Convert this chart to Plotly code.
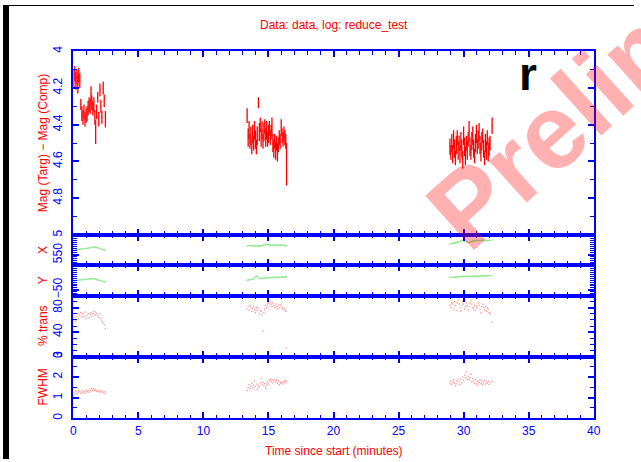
import plotly.graph_objects as go

# ---------------- data ----------------
# light curve: time (min), differential magnitude, 1-sigma error
t1 = [0.05, 0.12, 0.20, 0.28, 0.35, 0.42, 0.50, 0.58, 0.66, 0.74, 0.82, 0.90, 0.98, 1.06, 1.14, 1.22,
      1.30, 1.36, 1.42, 1.50, 1.58, 1.66, 1.72, 1.80, 1.88, 1.96, 2.05, 2.12, 2.20, 2.30, 2.38, 2.47]
m1 = [4.15, 4.12, 4.16, 4.14, 4.18, 4.13, 4.16, 4.29, 4.34, 4.36, 4.33, 4.37, 4.35, 4.34, 4.31, 4.29,
      4.30, 4.23, 4.28, 4.31, 4.29, 4.36, 4.44, 4.33, 4.25, 4.37, 4.21, 4.30, 4.36, 4.20, 4.27, 4.37]
e1 = [0.05, 0.04, 0.05, 0.04, 0.05, 0.04, 0.04, 0.03, 0.04, 0.04, 0.04, 0.04, 0.04, 0.04, 0.04, 0.04,
      0.04, 0.04, 0.04, 0.04, 0.04, 0.04, 0.065, 0.04, 0.03, 0.04, 0.035, 0.035, 0.035, 0.035, 0.035, 0.045]

t2 = [13.36, 13.44, 13.51, 13.58, 13.65, 13.72, 13.79, 13.86, 13.93, 14.00, 14.07, 14.14, 14.23, 14.30, 14.37,
      14.44, 14.51, 14.58, 14.65, 14.72, 14.79, 14.86, 14.93, 15.00, 15.07, 15.14, 15.21, 15.27, 15.34, 15.41,
      15.48, 15.55, 15.62, 15.69, 15.76, 15.83, 15.90, 15.98, 16.05, 16.12, 16.19, 16.26, 16.33, 16.39]
m2 = [4.35, 4.47, 4.43, 4.49, 4.46, 4.52, 4.45, 4.50, 4.43, 4.48, 4.52, 4.46, 4.28, 4.44, 4.40,
      4.47, 4.43, 4.49, 4.44, 4.41, 4.47, 4.43, 4.48, 4.45, 4.42, 4.47, 4.44, 4.41, 4.50, 4.53,
      4.49, 4.54, 4.50, 4.55, 4.51, 4.47, 4.49, 4.415, 4.46, 4.48, 4.45, 4.47, 4.49, 4.615]
e2 = [0.04, 0.05, 0.05, 0.04, 0.05, 0.04, 0.05, 0.04, 0.05, 0.05, 0.04, 0.05, 0.03, 0.05, 0.04,
      0.05, 0.05, 0.04, 0.05, 0.04, 0.05, 0.05, 0.04, 0.05, 0.04, 0.04, 0.04, 0.05, 0.05, 0.05,
      0.04, 0.05, 0.04, 0.05, 0.04, 0.04, 0.04, 0.045, 0.04, 0.04, 0.04, 0.04, 0.04, 0.115]

t3 = [28.95, 29.02, 29.09, 29.16, 29.23, 29.30, 29.37, 29.44, 29.51, 29.58, 29.65, 29.72, 29.79, 29.86, 29.93,
      30.00, 30.07, 30.14, 30.21, 30.28, 30.35, 30.42, 30.49, 30.56, 30.63, 30.70, 30.77, 30.84, 30.91, 30.98,
      31.05, 31.12, 31.19, 31.26, 31.33, 31.40, 31.47, 31.54, 31.61, 31.68, 31.75, 31.82, 31.89, 31.96, 32.03, 32.19]
m3 = [4.52, 4.55, 4.50, 4.56, 4.48, 4.53, 4.58, 4.51, 4.47, 4.54, 4.50, 4.56, 4.49, 4.53, 4.59,
      4.46, 4.52, 4.57, 4.50, 4.54, 4.48, 4.43, 4.52, 4.55, 4.49, 4.46, 4.53, 4.57, 4.50, 4.45,
      4.52, 4.48, 4.44, 4.51, 4.55, 4.49, 4.46, 4.53, 4.58, 4.50, 4.54, 4.47, 4.55, 4.52, 4.50, 4.405]
e3 = [0.045, 0.04, 0.05, 0.05, 0.05, 0.05, 0.04, 0.05, 0.04, 0.05, 0.04, 0.05, 0.05, 0.05, 0.05,
      0.05, 0.05, 0.05, 0.04, 0.05, 0.04, 0.05, 0.05, 0.04, 0.05, 0.05, 0.05, 0.04, 0.05, 0.05,
      0.04, 0.05, 0.05, 0.05, 0.05, 0.05, 0.04, 0.05, 0.04, 0.05, 0.05, 0.04, 0.05, 0.05, 0.04, 0.045]

# target centroid X (pixels), sampled at the same times
x1 = [551.15, 551.2, 551.25, 551.3, 551.3, 551.35, 551.4, 551.45, 551.5, 551.5, 551.55, 551.6, 551.6, 551.65,
      551.7, 551.75, 551.8, 551.85, 551.9, 552.0, 551.95, 552.0, 551.9, 551.85, 551.8, 551.7, 551.6, 551.5,
      551.4, 551.3, 551.2, 551.05]
x2 = [552.2, 552.35, 552.3, 552.4, 552.3, 552.25, 552.35, 552.2, 552.3, 552.15, 552.25, 552.3, 552.2, 552.15,
      552.3, 552.25, 552.35, 552.4, 552.5, 552.6, 552.55, 552.7, 552.75, 552.6, 552.5, 552.45, 552.4, 552.5,
      552.45, 552.5, 552.4, 552.5, 552.35, 552.45, 552.4, 552.5, 552.55, 552.4, 552.45, 552.35, 552.45, 552.35,
      552.4, 552.2]
x3 = [552.8, 552.85, 552.9, 552.85, 553.0, 553.1, 553.0, 553.2, 553.3, 553.15, 553.3, 553.45, 553.5, 553.6,
      553.55, 553.6, 553.5, 553.4, 553.3, 553.2, 553.1, 553.15, 553.2, 553.3, 553.4, 553.5, 553.45, 553.6,
      553.55, 553.65, 553.6, 553.7, 553.65, 553.6, 553.7, 553.65, 553.6, 553.7, 553.6, 553.65, 553.55, 553.6,
      553.7, 553.6, 553.65, 553.7]

# target centroid Y (pixels)
y1 = [-47.6, -47.55, -47.6, -47.5, -47.45, -47.5, -47.4, -47.45, -47.35, -47.4, -47.3, -47.35, -47.25, -47.2,
      -47.25, -47.15, -47.1, -47.15, -47.05, -47.0, -47.1, -47.15, -47.25, -47.35, -47.4, -47.5, -47.55, -47.65,
      -47.7, -47.8, -47.85, -47.9]
y2 = [-47.5, -47.45, -47.4, -47.45, -47.3, -47.2, -47.3, -47.1, -46.9, -46.6, -46.4, -46.5, -46.7, -46.9,
      -47.0, -47.1, -46.95, -47.05, -46.9, -47.0, -46.85, -46.9, -46.8, -46.85, -46.9, -46.8, -46.85, -46.7,
      -46.8, -46.85, -46.7, -46.75, -46.85, -46.7, -46.75, -46.6, -46.7, -46.75, -46.6, -46.7, -46.55, -46.6,
      -46.7, -46.5]
y3 = [-46.7, -46.75, -46.8, -46.7, -46.65, -46.75, -46.7, -46.6, -46.7, -46.55, -46.6, -46.7, -46.55, -46.6,
      -46.5, -46.55, -46.6, -46.45, -46.55, -46.65, -46.5, -46.45, -46.5, -46.6, -46.45, -46.5, -46.4, -46.45,
      -46.5, -46.4, -46.45, -46.5, -46.35, -46.45, -46.3, -46.4, -46.45, -46.3, -46.35, -46.45, -46.3, -46.35,
      -46.25, -46.3, -46.35, -46.2]

# sky transparency (%)
tr1 = [60, 64, 58, 66, 70, 62, 68, 72, 65, 70, 66, 73, 62, 67, 71, 64,
       69, 72, 66, 70, 74, 68, 73, 71, 67, 64, 70, 62, 58, 55, 52, 46]
tr2 = [78, 82, 76, 84, 80, 74, 79, 83, 77, 72, 81, 75, 79, 70, 76,
       74, 68, 42, 72, 78, 84, 80, 86, 88, 83, 90, 86, 82, 88, 84,
       80, 86, 82, 78, 84, 80, 85, 82, 78, 80, 76, 79, 74, 14]
tr3 = [84, 80, 88, 86, 78, 90, 84, 76, 88, 92, 86, 80, 74, 84, 90,
       86, 78, 82, 88, 84, 76, 82, 88, 92, 86, 80, 78, 84, 76, 82,
       80, 88, 84, 78, 72, 82, 86, 80, 76, 82, 74, 80, 78, 72, 70, 56]

# seeing (FWHM)
fw1 = [1.10, 1.22, 1.30, 1.18, 1.26, 1.34, 1.28, 1.20, 1.32, 1.24, 1.30, 1.22, 1.36, 1.28, 1.34, 1.26,
       1.40, 1.32, 1.44, 1.36, 1.42, 1.34, 1.38, 1.30, 1.36, 1.28, 1.34, 1.26, 1.30, 1.22, 1.28, 1.20]
fw2 = [1.34, 1.50, 1.62, 1.44, 1.56, 1.70, 1.48, 1.60, 1.80, 1.54, 1.66, 1.42, 1.58, 1.50, 1.72,
       1.94, 1.62, 1.74, 1.56, 1.68, 1.46, 1.60, 1.76, 1.66, 1.84, 1.90, 1.78, 1.86, 1.72, 1.82,
       1.88, 1.76, 1.84, 1.70, 1.80, 1.62, 1.74, 1.68, 1.76, 1.66, 1.80, 1.72, 1.84, 1.78]
fw3 = [1.68, 1.80, 1.62, 1.74, 1.86, 1.70, 1.58, 1.82, 1.66, 1.92, 1.76, 1.64, 1.88, 1.72, 2.00,
       1.84, 2.10, 1.96, 2.24, 1.90, 2.04, 1.86, 1.98, 2.14, 1.78, 1.92, 1.82, 1.70, 1.88, 1.66,
       1.80, 1.60, 1.74, 1.86, 1.68, 1.78, 1.62, 1.72, 1.84, 1.66, 1.76, 1.70, 1.80, 1.64, 1.74, 1.78]

# tick labels
time_ticks = [0, 5, 10, 15, 20, 25, 30, 35, 40]
mag_ticks = [4, 4.2, 4.4, 4.6, 4.8, 5]
mag_labels = ["4", "4.2", "4.4", "4.6", "4.8", "5"]

# ---------------- layout helpers ----------------
W, H = 641, 462
BLUE = "#0000ff"
RED = "#ff0000"
FONT = "Liberation Sans"
X0, X1 = 71.4, 600.1


def py(p):
    """pixel row -> paper y"""
    return 1 - p / H


def px(p):
    return p / W


# panel rows (top, bottom) in pixels
rows = {
    "mag": (47.05, 234.05),
    "x": (234.05, 264.5),
    "y": (264.5, 295.7),
    "tr": (295.7, 357.7),
    "fw": (357.7, 420.4),
}

fig = go.Figure()

tt = [t1, t2, t3]
mm = [m1, m2, m3]
ee = [e1, e2, e3]
for t, m, e in zip(tt, mm, ee):
    fig.add_trace(go.Scatter(
        x=t, y=m, mode="markers", xaxis="x", yaxis="y",
        marker=dict(size=1, color=RED),
        error_y=dict(type="data", array=e, color=RED, thickness=1.3, width=0),
        showlegend=False, hoverinfo="skip"))

GREEN = "rgb(140,232,140)"
PINK = "rgb(255,150,150)"
aux = [("x2", "y2", [x1, x2, x3], GREEN),
       ("x3", "y3", [y1, y2, y3], GREEN),
       ("x4", "y4", [tr1, tr2, tr3], PINK),
       ("x5", "y5", [fw1, fw2, fw3], PINK)]
for xa, ya, series, col in aux:
    for t, v in zip(tt, series):
        fig.add_trace(go.Scatter(
            x=t, y=v, mode="markers", xaxis=xa, yaxis=ya,
            marker=dict(size=1.6, color=col, line=dict(width=0)),
            showlegend=False, hoverinfo="skip"))

tickfont = dict(family=FONT, size=12, color=BLUE)


def xaxis_def(anchor, labels):
    return dict(
        domain=[px(X0), px(X1)], anchor=anchor, range=[0, 40],
        showline=True, linecolor=BLUE, linewidth=2, mirror="ticks",
        ticks="inside", ticklen=6, tickwidth=1.5, tickcolor=BLUE,
        tickvals=time_ticks, showticklabels=labels, tickfont=tickfont,
        minor=dict(dtick=1, ticks="inside", ticklen=3.5, tickwidth=1.3, tickcolor=BLUE),
        showgrid=False, zeroline=False, fixedrange=True,
    )


def yaxis_def(anchor, row, rng, tickvals, ticktext, minor_dtick):
    top, bot = rows[row]
    return dict(
        domain=[py(bot), py(top)], anchor=anchor, range=rng,
        showline=True, linecolor=BLUE, linewidth=2, mirror="ticks",
        ticks="inside", ticklen=6, tickwidth=1.5, tickcolor=BLUE,
        tickvals=tickvals, ticktext=ticktext, tickangle=-90, tickfont=tickfont,
        ticklabelstandoff=4,
        minor=dict(dtick=minor_dtick, ticks="inside", ticklen=3.5, tickwidth=1.3, tickcolor=BLUE),
        showgrid=False, zeroline=False, fixedrange=True,
    )


fig.update_layout(
    width=W, height=H, margin=dict(l=0, r=0, t=0, b=0),
    paper_bgcolor="white", plot_bgcolor="white", showlegend=False,
    xaxis=xaxis_def("y", False),
    xaxis2=xaxis_def("y2", False),
    xaxis3=xaxis_def("y3", False),
    xaxis4=xaxis_def("y4", False),
    xaxis5=xaxis_def("y5", True),
    yaxis=yaxis_def("x", "mag", [5, 4], mag_ticks, mag_labels, 0.1),
    yaxis2=yaxis_def("x2", "x", [547.5, 555.0], [550], ["550"], 0.5),
    yaxis3=yaxis_def("x3", "y", [-51.5, -43.5], [-50], ["\u221250"], 0.5),
    yaxis4=yaxis_def("x4", "tr", [0, 100], [0, 40, 80], ["0", "40", "80"], 10),
    yaxis5=yaxis_def("x5", "fw", [0, 3], [0, 1, 2, 3], ["0", "1", "2", "3"], 0.5),
)

titlefont = dict(family=FONT, size=12, color=RED)
ann = [
    dict(text="Data: data, log: reduce_test", x=px(335.9), y=py(20.3), font=titlefont),
    dict(text="Time since start (minutes)", x=px(335.9), y=py(454.3), font=titlefont),
    dict(text="Mag (Targ) \u2212 Mag (Comp)", x=px(40.7), y=py(140.5), textangle=-90, font=titlefont),
    dict(text="X", x=px(40.7), y=py(249.3), textangle=-90, font=titlefont),
    dict(text="Y", x=px(40.7), y=py(280.1), textangle=-90, font=titlefont),
    dict(text="% trans", x=px(40.7), y=py(326.7), textangle=-90, font=titlefont),
    dict(text="FWHM", x=px(40.7), y=py(389.2), textangle=-90, font=titlefont),
    dict(text="<b>r</b>", x=px(533.5), y=py(70.6), font=dict(family=FONT, size=46, color="black")),
    dict(text="<b>Preliminary</b>", x=px(666.2), y=py(29.8), textangle=-42,
         font=dict(family=FONT, size=106, color="rgba(255,0,0,0.31)")),
]
for a in ann:
    a.update(xref="paper", yref="paper", showarrow=False, xanchor="center", yanchor="middle")
fig.update_layout(annotations=ann)

# black frame strips along the left and top edges
fig.add_shape(type="rect", xref="paper", yref="paper", x0=0, x1=px(6.1), y0=0, y1=1,
              fillcolor="black", line=dict(width=0), layer="above")
fig.add_shape(type="rect", xref="paper", yref="paper", x0=0, x1=1, y0=py(1.0), y1=1,
              fillcolor="black", line=dict(width=0), layer="above")

fig.write_html(
    "out.html",
    post_script="document.body.style.margin='0';document.body.style.background='white';",
)
